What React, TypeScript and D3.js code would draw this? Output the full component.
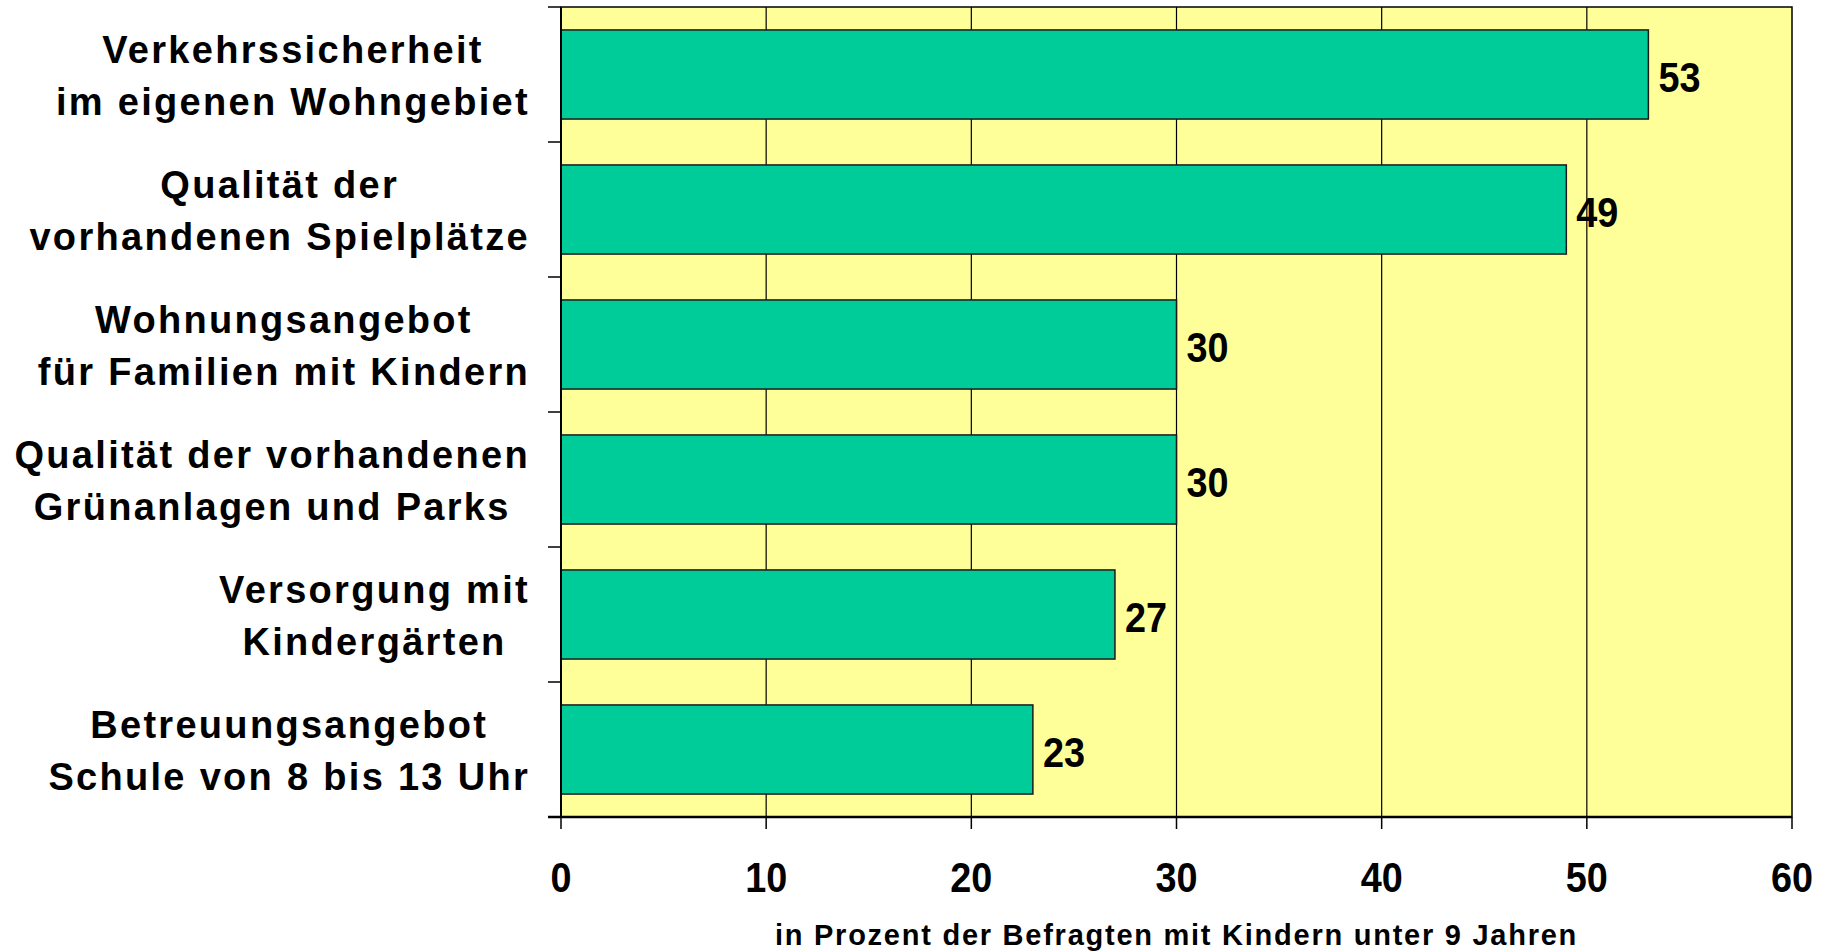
import React, { useEffect, useRef } from 'react'
import * as d3 from 'd3'

// category labels, one entry per line
const categories = [
  ['Verkehrssicherheit', 'im eigenen Wohngebiet'],
  ['Qualität der', 'vorhandenen Spielplätze'],
  ['Wohnungsangebot', 'für Familien mit Kindern'],
  ['Qualität der vorhandenen', 'Grünanlagen und Parks'],
  ['Versorgung mit', 'Kindergärten'],
  ['Betreuungsangebot', 'Schule von 8 bis 13 Uhr'],
]
const values = [53, 49, 30, 30, 27, 23]
const xTicks = [0, 10, 20, 30, 40, 50, 60]
const axisTitle = 'in Prozent der Befragten mit Kindern unter 9 Jahren'

const FONT = '"Liberation Sans", Arial, sans-serif'

const App = () => {
  const svgRef = useRef<SVGSVGElement>(null)

  useEffect(() => {
    const width = 1830
    const height = 952
    const margin = { top: 7, right: 38, bottom: 135, left: 561 }
    const innerW = width - margin.left - margin.right
    const innerH = height - margin.top - margin.bottom

    const svg = d3.select(svgRef.current)
    svg.selectAll('*').remove()

    const x = d3.scaleLinear().domain([0, 60]).range([0, innerW])
    const y = d3
      .scaleBand<number>()
      .domain(d3.range(categories.length))
      .range([0, innerH])
      .paddingInner(0.34)
      .paddingOuter(0.17)

    const g = svg
      .append('g')
      .attr('transform', `translate(${margin.left},${margin.top})`)

    // plot background
    g.append('rect')
      .attr('width', innerW)
      .attr('height', innerH)
      .attr('fill', '#ffff99')
      .attr('stroke', '#000')
      .attr('stroke-width', 1.5)

    // vertical gridlines
    g.selectAll('.grid')
      .data(xTicks.slice(1, -1))
      .enter()
      .append('line')
      .attr('x1', (d) => x(d))
      .attr('x2', (d) => x(d))
      .attr('y1', 0)
      .attr('y2', innerH)
      .attr('stroke', '#000')
      .attr('stroke-width', 1.2)

    // bars
    g.selectAll('.bar')
      .data(values)
      .enter()
      .append('rect')
      .attr('x', 0)
      .attr('y', (d, i) => y(i))
      .attr('width', (d) => x(d))
      .attr('height', y.bandwidth())
      .attr('fill', '#00cc99')
      .attr('stroke', '#1a1a1a')
      .attr('stroke-width', 1.5)

    // value labels
    g.selectAll('.val')
      .data(values)
      .enter()
      .append('text')
      .attr(
        'transform',
        (d, i) =>
          `translate(${x(d) + 10},${y(i) + y.bandwidth() / 2 + 17}) scale(0.9,1)`
      )
      .style('font-family', FONT)
      .style('font-weight', 'bold')
      .style('font-size', '42px')
      .text((d) => d)

    // left axis line with band ticks
    const step = innerH / categories.length
    g.append('line')
      .attr('x1', 0)
      .attr('x2', 0)
      .attr('y1', 0)
      .attr('y2', innerH)
      .attr('stroke', '#000')
      .attr('stroke-width', 2)
    g.selectAll('.ytick')
      .data(d3.range(categories.length + 1))
      .enter()
      .append('line')
      .attr('x1', -13)
      .attr('x2', 0)
      .attr('y1', (d) => d * step)
      .attr('y2', (d) => d * step)
      .attr('stroke', '#000')
      .attr('stroke-width', 1.5)

    // bottom axis
    g.append('line')
      .attr('x1', -13)
      .attr('x2', innerW)
      .attr('y1', innerH)
      .attr('y2', innerH)
      .attr('stroke', '#000')
      .attr('stroke-width', 2.5)
    g.selectAll('.xtick')
      .data(xTicks)
      .enter()
      .append('line')
      .attr('x1', (d) => x(d))
      .attr('x2', (d) => x(d))
      .attr('y1', innerH)
      .attr('y2', innerH + 12)
      .attr('stroke', '#000')
      .attr('stroke-width', 1.5)
    g.selectAll('.xlabel')
      .data(xTicks)
      .enter()
      .append('text')
      .attr('transform', (d) => `translate(${x(d)},${innerH + 75}) scale(0.9,1)`)
      .attr('text-anchor', 'middle')
      .style('font-family', FONT)
      .style('font-weight', 'bold')
      .style('font-size', '42px')
      .text((d) => d)

    // axis title
    g.append('text')
      .attr('x', innerW / 2)
      .attr('y', innerH + 128)
      .attr('text-anchor', 'middle')
      .style('font-family', FONT)
      .style('font-weight', 'bold')
      .style('font-size', '29px')
      .style('letter-spacing', '1.75px')
      .text(axisTitle)

    // category labels: lines centred within a right-aligned block
    const rightEdge = 530 - margin.left
    categories.forEach((lines, i) => {
      const c = y(i) + y.bandwidth() / 2
      const lg = g.append('g')
      const texts = lines.map((line, j) =>
        lg
          .append('text')
          .attr('y', c - 12 + j * 52)
          .attr('text-anchor', 'middle')
          .style('font-family', FONT)
          .style('font-weight', 'bold')
          .style('font-size', '38px')
          .style('letter-spacing', '2.3px')
          .text(line)
      )
      const maxW = d3.max(texts, (t) => (t.node() as SVGTextElement).getComputedTextLength()) || 0
      texts.forEach((t) => t.attr('x', rightEdge - maxW / 2))
    })
  }, [])

  return (
    <svg
      ref={svgRef}
      width={1830}
      height={952}
      style={{ position: 'absolute', left: 0, top: 0, background: '#fff' }}
    ></svg>
  )
}

export default App
